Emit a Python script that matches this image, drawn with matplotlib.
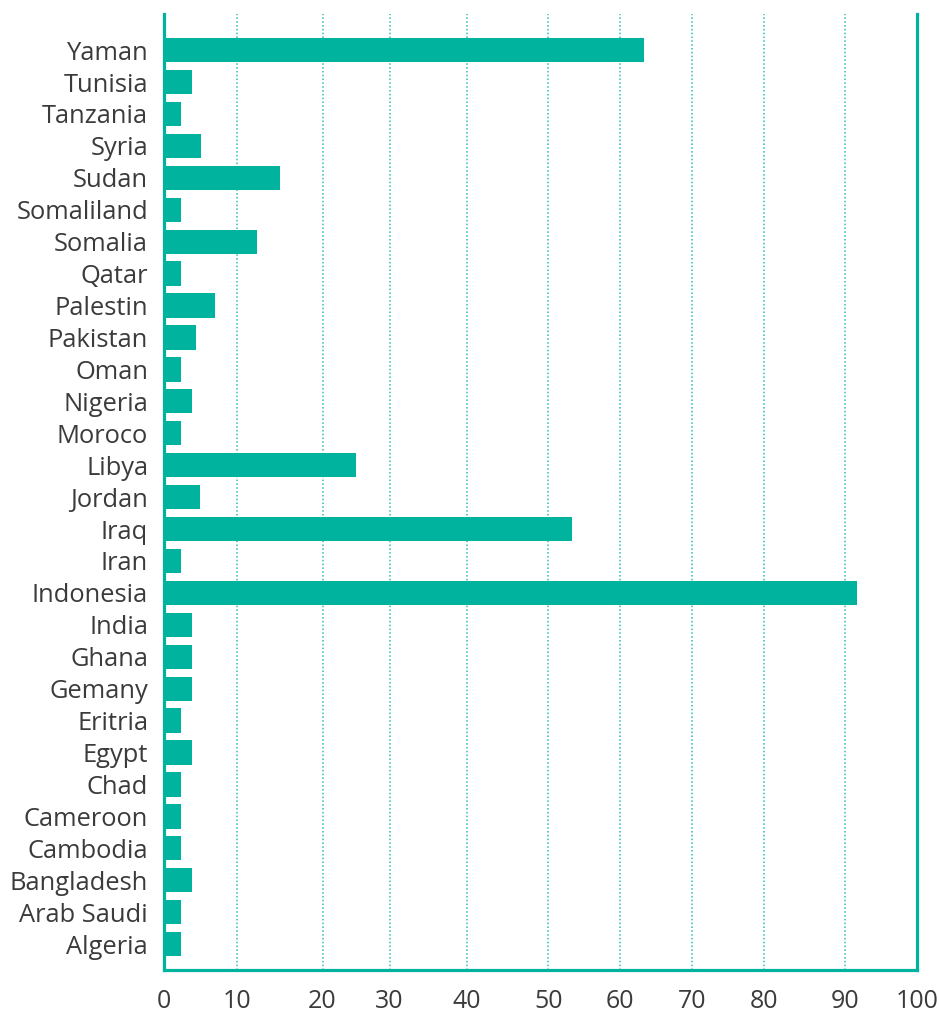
import numpy as np
import matplotlib
matplotlib.use("Agg")
import matplotlib.pyplot as plt

# ---- data (top to bottom as displayed) ----
countries = ["Yaman", "Tunisia", "Tanzania", "Syria", "Sudan", "Somaliland",
             "Somalia", "Qatar", "Palestin", "Pakistan", "Oman", "Nigeria",
             "Moroco", "Libya", "Jordan", "Iraq", "Iran", "Indonesia", "India",
             "Ghana", "Gemany", "Eritria", "Egypt", "Chad", "Cameroon",
             "Cambodia", "Bangladesh", "Arab Saudi", "Algeria"]
values = [63.3, 3.9, 2.4, 5.1, 15.0, 2.4,
          12.4, 2.4, 7.0, 4.4, 2.4, 3.9,
          2.4, 25.0, 5.0, 53.3, 2.4, 91.7, 3.9,
          3.9, 3.9, 2.4, 3.9, 2.4, 2.4,
          2.4, 3.9, 2.4, 2.4]
tick_values = [0, 10, 20, 30, 40, 50, 60, 70, 80, 90, 100]
tick_labels = ["0", "10", "20", "30", "40", "50", "60", "70", "80", "90", "100"]

# axis warp observed in the reference (tick spacing is uneven)
warp_pos = np.array([0.0, 73.2, 159.0, 226.0, 303.0, 384.7, 456.6, 528.5, 600.5, 681.5, 753.5])
warp_val = np.array(tick_values, dtype=float)

def fwd(x):
    return np.interp(x, warp_val, warp_pos)

def inv(p):
    return np.interp(p, warp_pos, warp_val)

teal = "#00B39E"
grid_teal = "#2BBFAE"
text_col = "#3B3B3B"

plt.rcParams['font.family'] = ['Open Sans', 'DejaVu Sans']

W, H = 939, 1014
fig = plt.figure(figsize=(W / 100, H / 100), dpi=100)
left, right, top, bottom = 163.5, 917, 14, 970
ax = fig.add_axes([left / W, 1 - bottom / H, (right - left) / W, (bottom - top) / H])

ax.set_xscale('function', functions=(fwd, inv))

n = len(countries)
ypos = np.arange(n)[::-1]
ax.barh(ypos, values, height=0.76, color=teal, zorder=3)

ax.set_xlim(0, 100)
ax.set_ylim(-0.81, n - 1 + 1.13)
ax.set_yticks(ypos)
ax.set_yticklabels(countries, fontsize=18.4, color=text_col)
ax.set_xticks(tick_values)
ax.set_xticklabels(tick_labels, fontsize=18, color=text_col)
ax.xaxis.set_minor_locator(matplotlib.ticker.NullLocator())
ax.tick_params(axis='y', length=0, pad=11)
ax.tick_params(axis='x', length=0, pad=14)

ax.grid(axis='x', color=grid_teal, linestyle=(0, (1, 1.5)), linewidth=1.1, zorder=0)
ax.grid(axis='y', visible=False)
ax.set_axisbelow(True)

for s in ['left', 'right', 'bottom']:
    ax.spines[s].set_color(teal)
    ax.spines[s].set_linewidth(2.3)
ax.spines['top'].set_visible(False)

fig.savefig("out.png", dpi=100, facecolor="white")
